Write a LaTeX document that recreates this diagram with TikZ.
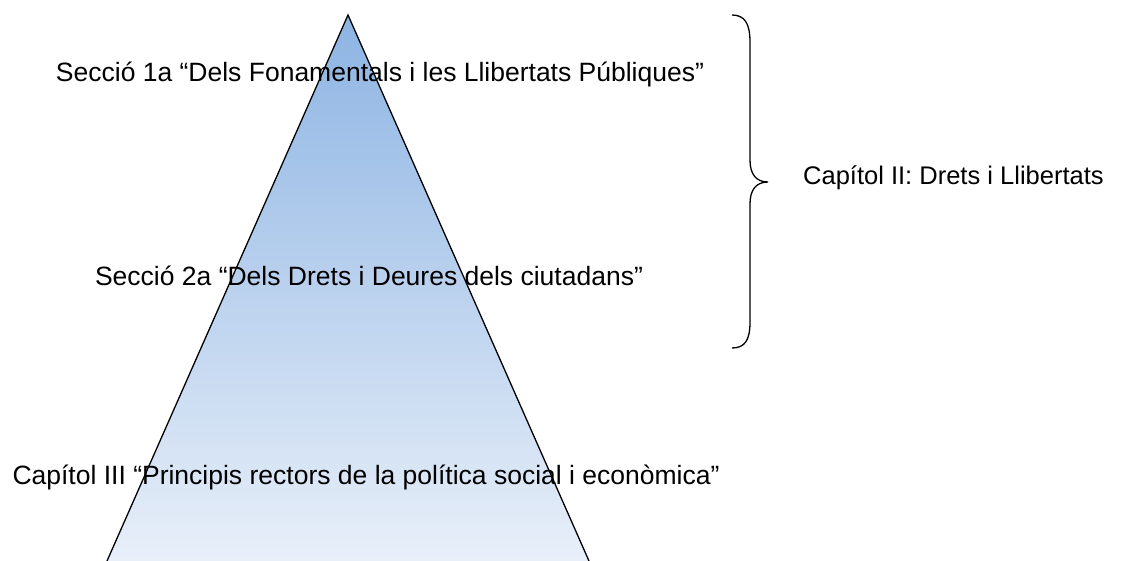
\documentclass[tikz,border=0pt]{standalone}
\usepackage{fontspec}
\setmainfont{Liberation Sans}
\begin{document}
\begin{tikzpicture}[x=1pt,y=-1pt,
  lbl/.style={inner sep=0pt, font=\fontsize{26.5}{31}\selectfont, text=black},
  tri/.style={draw=black, line width=1.3pt, line join=miter},
  brace/.style={draw=black, line width=1.3pt}]
\useasboundingbox (0,0) rectangle (1122,561);
\definecolor{topblue}{RGB}{141,180,227}
\definecolor{botblue}{RGB}{232,239,249}
% triangle
\coordinate (apex) at (348,15);
\coordinate (bl) at (107,561);
\coordinate (br) at (589,561);
\shade[top color=topblue, bottom color=botblue] (apex) -- (br) -- (bl) -- cycle;
\draw[tri] (bl) -- (apex) -- (br);
% labels
\node[lbl] (s1) at (380,74) {Secció 1a “Dels Fonamentals i les Llibertats Públiques”};
\node[lbl] (s2) at (369,276) {Secció 2a “Dels Drets i Deures dels ciutadans”};
\node[lbl] (c3) at (366,477) {Capítol III “Principis rectors de la política social i econòmica”};
\node[lbl, anchor=west, font=\fontsize{25.5}{30}\selectfont] (c2) at (803,178) {Capítol II: Drets i Llibertats};
% brace
\coordinate (bt) at (732,15);
\coordinate (bb) at (732,348);
\coordinate (tip) at (768,182);
\draw[brace] (bt) .. controls (745,15) and (750,24) .. (750,42) -- (750,160)
  .. controls (750,174) and (756,182) .. (tip)
  .. controls (756,182) and (750,190) .. (750,204) -- (750,322)
  .. controls (750,340) and (745,348) .. (bb);
\end{tikzpicture}
\end{document}
